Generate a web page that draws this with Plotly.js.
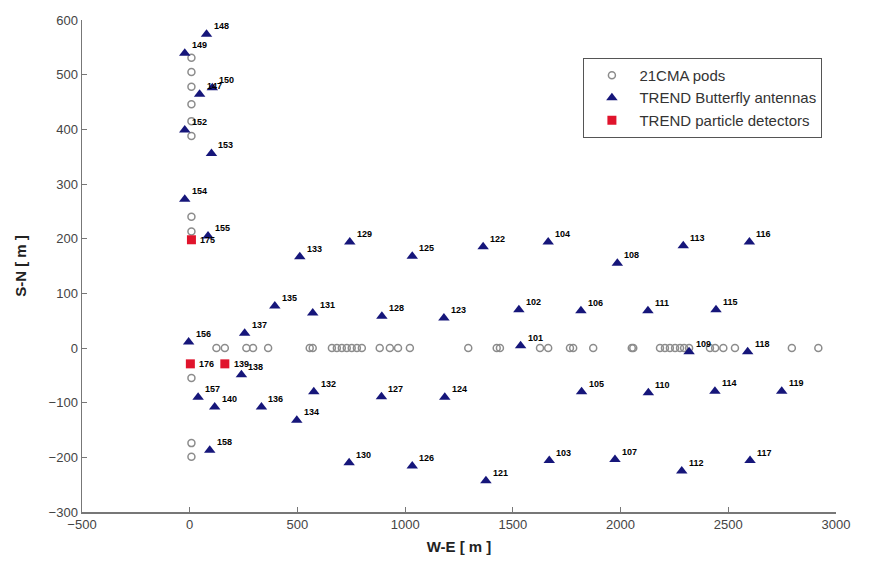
<!DOCTYPE html>
<html>
<head>
<meta charset="utf-8">
<script src="https://cdn.plot.ly/plotly-3.0.1.min.js"></script>
<style>html,body{margin:0;padding:0;background:#fff;}#chart{width:884px;height:567px;}</style>
</head>
<body>
<div id="chart"></div>
<script>
// 21CMA pods
const podX = [8, 8, 8, 8, 8, 8, 8, 8, 8, 8, 8,
  124, 163, 263, 294, 364, 557, 571, 660, 683, 706, 729, 752, 776, 799,
  882, 929, 967, 1022, 1293, 1425, 1440, 1626, 1664, 1765, 1780, 1873,
  2052, 2059, 2183, 2206, 2229, 2253, 2276, 2295, 2318, 2415, 2439, 2477, 2531, 2795, 2918];
const podY = [531, 505, 478, 446, 415, 388, 240, 213, -55, -174, -199,
  0, 0, 0, 0, 0, 0, 0, 0, 0, 0, 0, 0, 0, 0,
  0, 0, 0, 0, 0, 0, 0, 0, 0, 0, 0, 0,
  0, 0, 0, 0, 0, 0, 0, 0, 0, 0, 0, 0, 0, 0, 0];

// TREND butterfly antennas
const antId = ['148','149','147','150','152','153','154','155','156','157','140','158',
  '137','138','136','134','135','133','131','132','129','128','127','130',
  '125','123','124','126','122','121','104','102','101','105','103',
  '108','106','107','113','111','110','109','112','116','115','118','114','117','119'];
const antX = [78, -23, 46, 105, -23, 101, -23, 85, -5, 39, 116, 93,
  255, 240, 333, 497, 395, 511, 571, 576, 743, 892, 890, 740,
  1033, 1180, 1184, 1033, 1362, 1375, 1664, 1528, 1536, 1819, 1669,
  1985, 1816, 1974, 2291, 2127, 2129, 2318, 2284, 2598, 2443, 2590, 2438, 2601, 2748];
const antY = [574, 539, 464, 476, 399, 356, 272, 205, 11, -90, -108, -187,
  27, -49, -108, -132, 77, 167, 64, -80, 194, 58, -89, -210,
  168, 55, -90, -216, 185, -243, 194, 70, 4, -80, -206,
  155, 68, -204, 187, 68, -82, -7, -225, 194, 70, -7, -79, -206, -79];

// TREND particle detectors
const detId = ['175', '176', '139'];
const detX = [8, 3, 163];
const detY = [198, -29, -29];

const FONT = 'Liberation Sans, Arial, sans-serif';
const labelFont = {family: FONT, size: 9, color: '#000', weight: 'bold'};

const traces = [
  {
    x: podX, y: podY, type: 'scatter', mode: 'markers', name: '21CMA pods',
    marker: {symbol: 'circle-open', size: 7, color: '#8c8c8c', line: {width: 1.5, color: '#8c8c8c'}}
  },
  {
    x: antX, y: antY, type: 'scatter', mode: 'markers', name: 'TREND Butterfly antennas',
    marker: {symbol: 'triangle-up', size: 10, color: '#16167a'}
  },
  {
    x: detX, y: detY, type: 'scatter', mode: 'markers', name: 'TREND particle detectors',
    marker: {symbol: 'square', size: 9, color: '#e0142c'}
  }
];

const annotations = [];
antId.forEach((t, i) => annotations.push({
  x: antX[i], y: antY[i], text: t, showarrow: false, xanchor: 'left', yanchor: 'middle',
  xshift: 5, yshift: 8, font: labelFont
}));
detId.forEach((t, i) => annotations.push({
  x: detX[i], y: detY[i], text: t, showarrow: false, xanchor: 'left', yanchor: 'middle',
  xshift: 7, yshift: 0, font: labelFont
}));

const axisCommon = {
  showgrid: false, zeroline: false, showline: true, linecolor: '#777', linewidth: 1.5,
  ticks: 'inside', ticklen: 5, tickcolor: '#777', tickwidth: 1,
  tickfont: {family: FONT, size: 13, color: '#444'},
  mirror: false
};

const layout = {
  width: 884, height: 567,
  margin: {l: 82, r: 48, t: 20, b: 55},
  paper_bgcolor: '#fff', plot_bgcolor: '#fff',
  showlegend: true,
  annotations: annotations,
  xaxis: Object.assign({}, axisCommon, {
    range: [-500, 3000], tickvals: [-500, 0, 500, 1000, 1500, 2000, 2500, 3000],
    title: {text: 'W-E [ m ]', font: {family: FONT, size: 15, color: '#222', weight: 'bold'}, standoff: 10}
  }),
  yaxis: Object.assign({}, axisCommon, {
    range: [-300, 600], tickvals: [-300, -200, -100, 0, 100, 200, 300, 400, 500, 600],
    title: {text: 'S-N [ m ]', font: {family: FONT, size: 15, color: '#222', weight: 'bold'}, standoff: 18}
  }),
  legend: {
    x: 0.665, y: 0.923, xanchor: 'left', yanchor: 'top',
    bgcolor: '#fff', bordercolor: '#555', borderwidth: 1,
    font: {family: FONT, size: 15, color: '#333'},
    itemwidth: 45, tracegroupgap: 0
  }
};

Plotly.newPlot('chart', traces, layout, {displayModeBar: false, staticPlot: true});
</script>
</body>
</html>
